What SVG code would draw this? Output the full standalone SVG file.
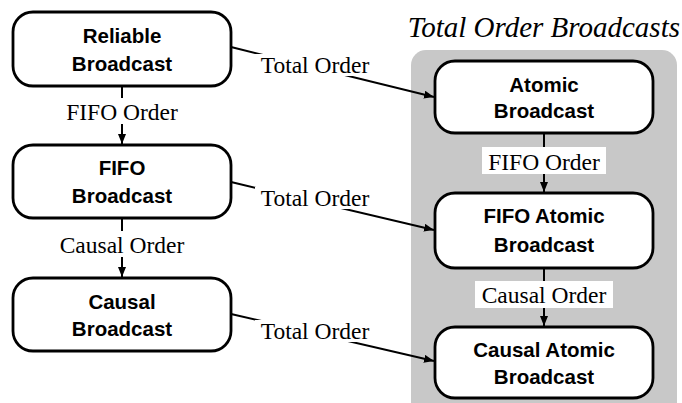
<svg xmlns="http://www.w3.org/2000/svg" width="682" height="403" viewBox="0 0 682 403">
<style>
.node rect{fill:#fff;stroke:#000;stroke-width:2.8}
.nt{font-family:"Liberation Sans",Arial,sans-serif;font-weight:bold;font-size:20.5px;text-anchor:middle;fill:#000}
.lt{font-family:"Liberation Serif","Times New Roman",serif;font-size:23.5px;text-anchor:middle;fill:#000}
.edge line{stroke:#000;stroke-width:2;marker-end:url(#ah)}
.lbg{fill:#fff}
</style>
<defs>
<marker id="ah" viewBox="0 0 10 8" refX="10" refY="4" markerWidth="10" markerHeight="8" markerUnits="userSpaceOnUse" orient="auto">
<path d="M0,0 L10,4 L0,8 Z" fill="#000"/>
</marker>
</defs>
<rect x="411" y="50" width="266" height="370" rx="15" fill="#c8c8c8"/>
<text x="680" y="37" font-family="'Liberation Serif','Times New Roman',serif" font-style="italic" font-size="29" text-anchor="end">Total Order Broadcasts</text>
<g id="connectors" class="edge">
<line x1="122" y1="86" x2="122" y2="144"/>
<line x1="122" y1="218" x2="122" y2="277"/>
<line x1="544" y1="133" x2="544" y2="192"/>
<line x1="544" y1="268" x2="544" y2="326"/>
<line x1="231" y1="47" x2="434" y2="97"/>
<line x1="231" y1="182" x2="434" y2="230"/>
<line x1="231" y1="314" x2="434" y2="361"/>
<rect class="lbg" x="60" y="98" width="124" height="26"/>
<text class="lt" x="122" y="120">FIFO Order</text>
<rect class="lbg" x="54" y="231" width="136" height="26"/>
<text class="lt" x="122" y="253">Causal Order</text>
<rect class="lbg" x="482" y="147" width="124" height="27"/>
<text class="lt" x="544" y="170">FIFO Order</text>
<rect class="lbg" x="475" y="281" width="138" height="27"/>
<text class="lt" x="544" y="303">Causal Order</text>
<rect class="lbg" x="255" y="54" width="118" height="22"/>
<text class="lt" x="315" y="73">Total Order</text>
<rect class="lbg" x="255" y="187" width="118" height="22"/>
<text class="lt" x="315" y="206">Total Order</text>
<rect class="lbg" x="255" y="320" width="118" height="22"/>
<text class="lt" x="315" y="339">Total Order</text>
</g>
<g id="reliable" class="node"><rect x="13" y="12" width="218" height="74" rx="20"/><text class="nt" x="122" y="43">Reliable</text><text class="nt" x="122" y="71">Broadcast</text></g>
<g id="fifo" class="node"><rect x="13" y="145" width="218" height="73" rx="20"/><text class="nt" x="122" y="175">FIFO</text><text class="nt" x="122" y="203">Broadcast</text></g>
<g id="causal" class="node"><rect x="13" y="278" width="218" height="73" rx="20"/><text class="nt" x="122" y="309">Causal</text><text class="nt" x="122" y="336">Broadcast</text></g>
<g id="atomic" class="node"><rect x="435" y="61" width="218" height="72" rx="20"/><text class="nt" x="544" y="92">Atomic</text><text class="nt" x="544" y="118">Broadcast</text></g>
<g id="fifoatomic" class="node"><rect x="435" y="193" width="218" height="75" rx="20"/><text class="nt" x="544" y="223">FIFO Atomic</text><text class="nt" x="544" y="252">Broadcast</text></g>
<g id="causalatomic" class="node"><rect x="435" y="327" width="218" height="71" rx="20"/><text class="nt" x="544" y="357">Causal Atomic</text><text class="nt" x="544" y="384">Broadcast</text></g>
</svg>
